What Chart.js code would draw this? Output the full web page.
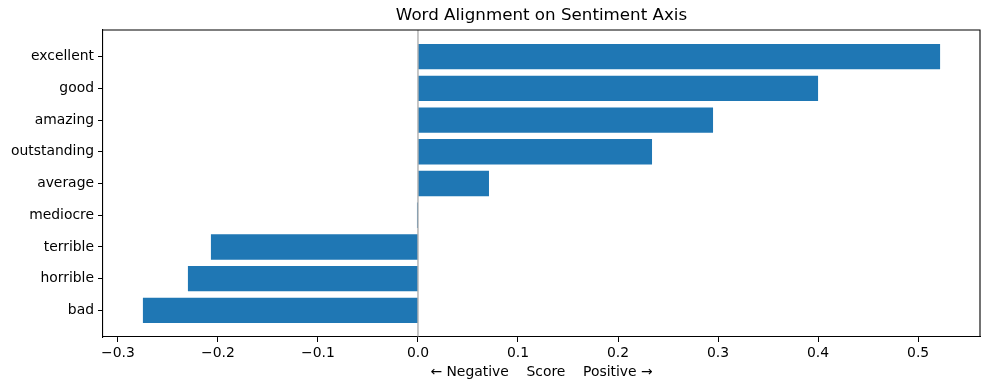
<!DOCTYPE html>
<html>
<head>
<meta charset="utf-8">
<script src="https://cdn.jsdelivr.net/npm/chart.js@4"></script>
<style>
  html, body { margin: 0; padding: 0; background: #fff; }
  #wrap { width: 990px; height: 390px; }
</style>
</head>
<body>
<div id="wrap"><canvas id="chart1" width="990" height="390"></canvas></div>
<script>
// Data, bottom to top (matplotlib barh order)
const words = ['bad', 'horrible', 'terrible', 'mediocre', 'average', 'outstanding', 'amazing', 'good', 'excellent']
const scores = [-0.275, -0.230, -0.207, -0.001, 0.071, 0.234, 0.295, 0.400, 0.522]
const x_ticks = [-0.3, -0.2, -0.1, 0.0, 0.1, 0.2, 0.3, 0.4, 0.5]

const font = "'DejaVu Sans', sans-serif"

// zero line drawn over the bars
const zero_line = {
    id: 'zero_line',
    afterDatasetsDraw(chart) {
        const ctx = chart.ctx
        const area = chart.chartArea
        const x = chart.scales.x.getPixelForValue(0)
        ctx.save()
        ctx.strokeStyle = 'rgba(128,128,128,0.6)'
        ctx.lineWidth = 1.5
        ctx.beginPath()
        ctx.moveTo(x, area.top)
        ctx.lineTo(x, area.bottom)
        ctx.stroke()
        ctx.restore()
    }
}

// right/top spines
const frame = {
    id: 'frame',
    afterDraw(chart) {
        const a = chart.chartArea
        const ctx = chart.ctx
        ctx.save()
        ctx.strokeStyle = '#000'
        ctx.lineWidth = 1.1
        ctx.beginPath()
        ctx.moveTo(a.left, a.top)
        ctx.lineTo(a.right, a.top)
        ctx.lineTo(a.right, a.bottom)
        ctx.stroke()
        ctx.restore()
    }
}

const fmt = v => {
    const s = Math.abs(v).toFixed(1)
    return v < -1e-9 ? '\u2212' + s : s
}

const config = {
    type: 'bar',
    data: {
        datasets: [{
            data: words.map((w, i) => ({ x: scores[i], y: i })),
            backgroundColor: '#1f77b4',
            barPercentage: 0.8,
            categoryPercentage: 1.0,
        }]
    },
    options: {
        indexAxis: 'y',
        responsive: false,
        animation: false,
        layout: { padding: { left: 0, right: 10, top: 0, bottom: 9 } },
        plugins: {
            legend: { display: false },
            tooltip: { enabled: false },
            title: {
                display: true,
                fullSize: false,
                text: 'Word Alignment on Sentiment Axis',
                color: '#000',
                font: { family: font, size: 16.7, weight: 'normal' },
                padding: { top: 6, bottom: 4 }
            }
        },
        scales: {
            x: {
                type: 'linear',
                min: -0.3149,
                max: 0.5619,
                afterBuildTicks: s => { s.ticks = x_ticks.map(v => ({ value: v })) },
                afterFit: s => { s.height = 44 },
                ticks: {
                    callback: v => fmt(v),
                    color: '#000',
                    font: { family: font, size: 13.9 },
                    padding: 3,
                    maxRotation: 0,
                },
                grid: { drawOnChartArea: false, drawTicks: true, tickLength: 5, color: '#000', tickWidth: 1 },
                border: { display: true, color: '#000', width: 1.1 },
                title: {
                    display: true,
                    text: '\u2190 Negative    Score    Positive \u2192',
                    color: '#000',
                    font: { family: font, size: 13.9 },
                    padding: { top: 1, bottom: 0 }
                }
            },
            y: {
                type: 'linear',
                offset: false,
                min: -0.84,
                max: 8.84,
                afterBuildTicks: s => { s.ticks = words.map((w, i) => ({ value: i })) },
                afterFit: s => { s.width = 103 },
                ticks: {
                    callback: v => words[v],
                    color: '#000',
                    font: { family: font, size: 13.9 },
                    padding: 4,
                },
                grid: { offset: false, drawOnChartArea: false, drawTicks: true, tickLength: 5, color: '#000', tickWidth: 1 },
                border: { display: true, color: '#000', width: 1.1 },
            }
        }
    },
    plugins: [zero_line, frame]
}

const bar_chart = new Chart(document.getElementById('chart1'), config)
</script>
</body>
</html>
